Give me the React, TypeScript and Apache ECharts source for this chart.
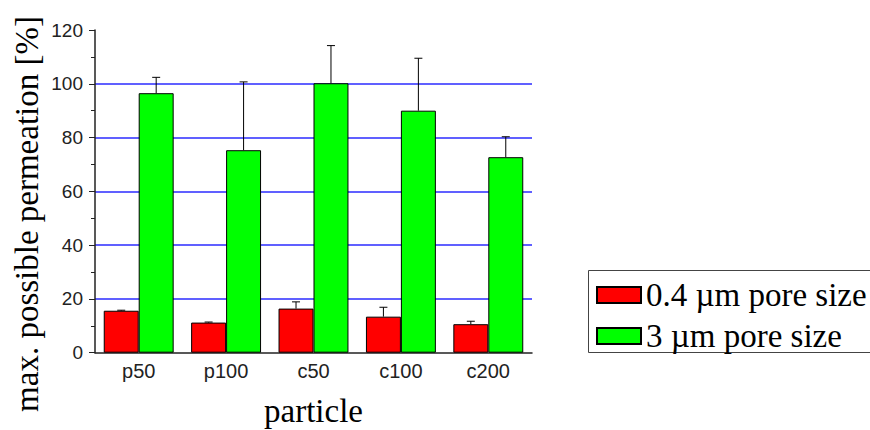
import React, { useEffect, useRef } from "react";
import * as echarts from "echarts";

// Particle types on the x axis
const particles = ["p50", "p100", "c50", "c100", "c200"];

// Mean max. possible permeation [%] and upper standard deviation
const pore04Values = [15.6, 11.2, 16.4, 13.4, 10.6];
const pore04Errors = [0.2, 0.2, 2.5, 3.5, 1.1];
const pore3Values = [96.5, 75.3, 100.2, 90.0, 72.7];
const pore3Errors = [5.9, 25.4, 14.0, 19.5, 7.6];

const seriesNames = ["0.4 \u00b5m pore size", "3 \u00b5m pore size"];
const yTitle = "max. possible permeation [%]";
const xTitle = "particle";

const SERIF = '"Liberation Serif", "Times New Roman", serif';
const SANS = '"Liberation Sans", Arial, sans-serif';

function errorSeries(values: number[], errors: number[], side: number) {
  return {
    type: "custom",
    z: 5,
    silent: true,
    data: values.map((v, i) => [i, v, errors[i]]),
    renderItem: (params: any, api: any) => {
      const idx = api.value(0);
      const v = api.value(1);
      const e = api.value(2);
      const band = api.size([1, 0])[0];
      const base = api.coord([idx, v]);
      const top = api.coord([idx, v + e]);
      const x = base[0] + side * band * 0.2;
      const style = { stroke: "#000", lineWidth: 1 };
      return {
        type: "group",
        children: [
          { type: "line", shape: { x1: x, y1: base[1], x2: x, y2: top[1] }, style },
          { type: "line", shape: { x1: x - 4, y1: top[1], x2: x + 4, y2: top[1] }, style },
        ],
      };
    },
  };
}

export default function App() {
  const ref = useRef<HTMLDivElement>(null);

  useEffect(() => {
    if (!ref.current) return;
    const chart = echarts.init(ref.current, null, { renderer: "svg" });
    chart.setOption({
      animation: false,
      backgroundColor: "#fff",
      grid: { left: 95, right: 338, top: 30, bottom: 77.3, outerBoundsMode: "none" },
      legend: {
        orient: "vertical",
        left: 596,
        top: 278.5,
        itemWidth: 44,
        itemHeight: 16,
        itemGap: 8,
        icon: "rect",
        padding: 0,
        data: seriesNames,
        textStyle: { fontFamily: SERIF, fontSize: 33, color: "#000" },
      },
      graphic: [
        {
          type: "rect",
          shape: { x: 588.5, y: 270.5, width: 300, height: 82 },
          style: { fill: "none", stroke: "#444", lineWidth: 1 },
        },
        {
          type: "text",
          x: 27,
          y: 214,
          rotation: Math.PI / 2,
          style: {
            text: yTitle,
            fontFamily: SERIF,
            fontSize: 33,
            fill: "#000",
            align: "center",
            verticalAlign: "middle",
          },
        },
      ],
      xAxis: {
        type: "category",
        data: particles,
        name: xTitle,
        nameLocation: "middle",
        nameGap: 42,
        nameTextStyle: { fontFamily: SERIF, fontSize: 33, color: "#000" },
        axisLine: { lineStyle: { color: "#222", width: 1.5 } },
        axisTick: { alignWithLabel: true, length: 5, lineStyle: { color: "#222" } },
        axisLabel: { fontFamily: SANS, fontSize: 20, color: "#222", margin: 8 },
      },
      yAxis: {
        type: "value",
        min: 0,
        max: 120,
        interval: 20,
        axisLine: { show: true, lineStyle: { color: "#222", width: 1.5 } },
        axisTick: { show: true, length: 6, lineStyle: { color: "#222" } },
        minorTick: { show: true, splitNumber: 2, length: 4, lineStyle: { color: "#222" } },
        axisLabel: { fontFamily: SANS, fontSize: 19, color: "#222", margin: 12 },
        splitLine: {
          show: true,
          showMinLine: false,
          showMaxLine: false,
          lineStyle: { color: "#2b2bff", width: 1.5 },
        },
      },
      series: [
        {
          name: seriesNames[0],
          type: "bar",
          data: pore04Values,
          barWidth: "40%",
          barGap: "0%",
          itemStyle: { color: "#ff0000", borderColor: "#000", borderWidth: 1 },
        },
        {
          name: seriesNames[1],
          type: "bar",
          data: pore3Values,
          barWidth: "40%",
          barGap: "0%",
          itemStyle: { color: "#00ff00", borderColor: "#000", borderWidth: 1 },
        },
        errorSeries(pore04Values, pore04Errors, -1),
        errorSeries(pore3Values, pore3Errors, 1),
      ],
    });
    return () => chart.dispose();
  }, []);

  return (
    <div
      ref={ref}
      style={{ position: "fixed", left: 0, top: 0, width: 870, height: 430 }}
    />
  );
}
